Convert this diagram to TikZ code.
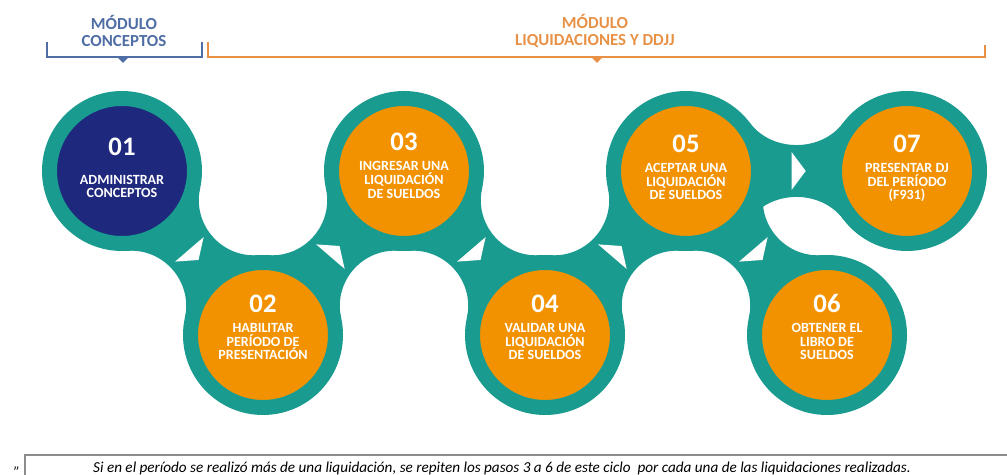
\documentclass[tikz,border=0pt]{standalone}
\usepackage{fontspec}
\setmainfont{Carlito}
\usepackage{tikz}
\usetikzlibrary{calc}
\usetikzlibrary{positioning}
\definecolor{mteal}{RGB}{26,155,143}
\definecolor{morange}{RGB}{243,146,0}
\definecolor{mnavy}{RGB}{30,40,125}
\definecolor{mblue}{RGB}{79,110,165}
\definecolor{mtan}{RGB}{232,145,70}

\tikzset{
  stage/.style={circle, minimum size=3.625cm, inner sep=0pt, line width=0.375cm, draw=mteal, fill=#1},
  num/.style={font=\fontsize{19}{19}\selectfont\bfseries, text=white, inner sep=0pt},
  steptext/.style={font=\fontsize{10}{9.7}\selectfont\bfseries, text=white, align=center, inner sep=0pt},
  head/.style={font=\fontsize{12}{12.4}\selectfont\bfseries, align=center, inner sep=0pt},
  note/.style={font=\fontsize{10.8}{11}\selectfont\itshape, inner sep=0pt}
}

% teal neck between two steps, with a white arrow head in the middle
\newcommand{\neck}[2]{%
  \fill [mteal] ($(#1)!2cm!36.87:(#2)$)
    .. controls ($(#1)!2.2cm!12.2:(#2)$) and ($(#2)!2.2cm!-12.2:(#1)$) .. ($(#2)!2cm!-36.87:(#1)$)
    -- ($(#2)!2cm!36.87:(#1)$)
    .. controls ($(#2)!2.2cm!12.2:(#1)$) and ($(#1)!2.2cm!-12.2:(#2)$) .. ($(#1)!2cm!-36.87:(#2)$)
    -- cycle;
  \coordinate (nb) at ($(#1)!0.5!(#2)!-0.12cm!(#2)$);
  \fill [white] ($(nb)!0.47cm!90:(#2)$) -- ($(#1)!0.5!(#2)!0.23cm!(#2)$) -- ($(nb)!0.47cm!-90:(#2)$) -- cycle;
}

\begin{document}
\begin{tikzpicture}
    \useasboundingbox (0, 0) rectangle (25.175, 11.875);

    % module headers
    \node [head, text=mblue] (h1) at (3.1, 11.1) {MÓDULO\\CONCEPTOS};
    \draw [mblue, line width=1.8pt] (1.175, 10.825) |- (5.05, 10.45) -- (5.05, 10.825);
    \fill [mblue] (2.925, 10.45) -- (3.225, 10.45) -- (3.075, 10.3) -- cycle;

    \node [head, text=mtan] (h2) at (14.875, 11.1) {MÓDULO\\LIQUIDACIONES Y DDJJ};
    \draw [mtan, line width=1.8pt] (5.2, 10.825) |- (24.625, 10.45) -- (24.625, 10.75);
    \fill [mtan] (14.775, 10.45) -- (15.075, 10.45) -- (14.925, 10.3) -- cycle;

    % step centres
    \coordinate (c1) at (3.05, 7.6);
    \coordinate (c2) at (6.575, 3.5);
    \coordinate (c3) at (10.1, 7.6);
    \coordinate (c4) at (13.625, 3.5);
    \coordinate (c5) at (17.15, 7.6);
    \coordinate (c6) at (20.675, 3.5);
    \coordinate (c7) at (22.675, 7.6);

    \neck{c1}{c2}
    \neck{c2}{c3}
    \neck{c3}{c4}
    \neck{c4}{c5}
    \neck{c5}{c6}
    \neck{c5}{c7}

    % steps
    \node [stage=mnavy] (s1) at (c1) {};
    \node [stage=morange] (s2) at (c2) {};
    \node [stage=morange] (s3) at (c3) {};
    \node [stage=morange] (s4) at (c4) {};
    \node [stage=morange] (s5) at (c5) {};
    \node [stage=morange] (s6) at (c6) {};
    \node [stage=morange] (s7) at (c7) {};

    \node [num] (n1) at ([yshift=0.6cm] s1.center) {01};
    \node [num] (n2) at ([yshift=0.79cm] s2.center) {02};
    \node [num] (n3) at ([yshift=0.72cm] s3.center) {03};
    \node [num] (n4) at ([yshift=0.79cm] s4.center) {04};
    \node [num] (n5) at ([yshift=0.69cm] s5.center) {05};
    \node [num] (n6) at ([yshift=0.79cm] s6.center) {06};
    \node [num] (n7) at ([yshift=0.69cm] s7.center) {07};

    \node [steptext, anchor=north] (t1) at ([yshift=-0.09cm] s1.center) {ADMINISTRAR\\CONCEPTOS};
    \node [steptext, anchor=north] (t2) at ([yshift=0.3cm] s2.center) {HABILITAR\\PERÍODO DE\\PRESENTACIÓN};
    \node [steptext, anchor=north] (t3) at ([yshift=0.24cm] s3.center) {INGRESAR UNA\\LIQUIDACIÓN\\DE SUELDOS};
    \node [steptext, anchor=north] (t4) at ([yshift=0.3cm] s4.center) {VALIDAR UNA\\LIQUIDACIÓN\\DE SUELDOS};
    \node [steptext, anchor=north] (t5) at ([yshift=0.2cm] s5.center) {ACEPTAR UNA\\LIQUIDACIÓN\\DE SUELDOS};
    \node [steptext, anchor=north] (t6) at ([yshift=0.3cm] s6.center) {OBTENER EL\\LIBRO DE\\SUELDOS};
    \node [steptext, anchor=north] (t7) at ([yshift=0.2cm] s7.center) {PRESENTAR DJ\\DEL PERÍODO\\(F931)};

    % note at the bottom
    \draw [black!45, line width=1.2pt] (0.625, -0.5) |- (26, 0.5);
    \node [note, anchor=base] (nt) at (12.55, 0.07) {Si en el período se realizó más de una liquidación, se repiten los pasos 3 a 6 de este ciclo\ \ por cada una de las liquidaciones realizadas.};
    \node [note, anchor=base] (q) at (0.42, 0.16) {„};
\end{tikzpicture}
\end{document}
